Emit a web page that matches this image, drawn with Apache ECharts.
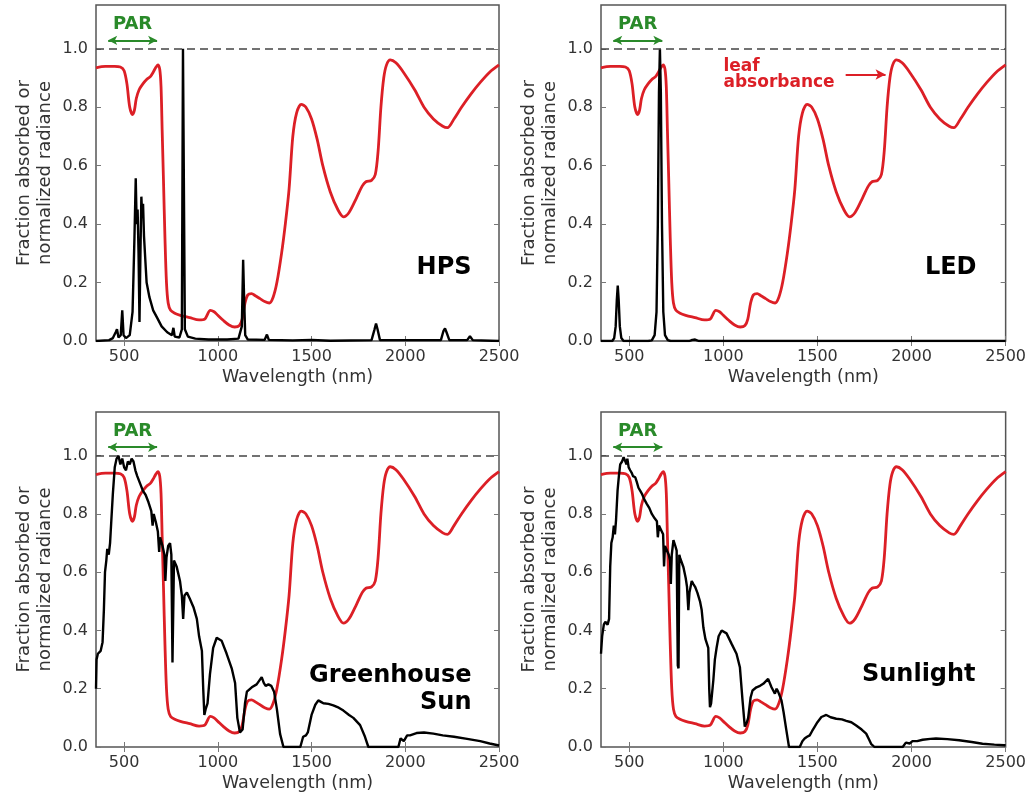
<!DOCTYPE html>
<html><head><meta charset="utf-8">
<script src="https://cdn.jsdelivr.net/npm/echarts@6/dist/echarts.min.js"></script>
<style>html,body{margin:0;padding:0;background:#fff}#c{width:1029px;height:797px}</style>
</head><body><div id="c"></div>
<script>
// ---------- data ----------
const xMin = 350, xMax = 2500;
const yMin = 0, yMax = 1.15;
const xTicks = [500, 1000, 1500, 2000, 2500];
const yTicks = [0, 0.2, 0.4, 0.6, 0.8, 1.0];
const parRange = [415, 676];

const leafAbsorbance = [[350,0.935],[400,0.94],[450,0.94],[480,0.938],[500,0.925],[515,0.88],[530,0.80],[545,0.775],[555,0.79],[565,0.83],[580,0.86],[600,0.88],[620,0.895],[640,0.905],[655,0.92],[668,0.935],[680,0.945],[690,0.93],[697,0.87],[703,0.72],[710,0.55],[718,0.35],[726,0.2],[735,0.13],[748,0.105],[770,0.095],[800,0.088],[850,0.08],[900,0.072],[930,0.075],[960,0.105],[980,0.1],[1000,0.088],[1030,0.07],[1060,0.055],[1090,0.048],[1115,0.053],[1130,0.075],[1145,0.13],[1160,0.158],[1180,0.162],[1200,0.155],[1225,0.145],[1250,0.135],[1275,0.13],[1295,0.15],[1315,0.2],[1340,0.3],[1360,0.4],[1380,0.52],[1400,0.7],[1420,0.78],[1445,0.81],[1470,0.8],[1500,0.76],[1530,0.69],[1560,0.6],[1600,0.51],[1640,0.45],[1670,0.425],[1700,0.44],[1740,0.49],[1770,0.53],[1790,0.545],[1820,0.55],[1840,0.57],[1855,0.65],[1870,0.8],[1885,0.9],[1900,0.945],[1920,0.962],[1950,0.952],[1990,0.92],[2050,0.86],[2100,0.8],[2150,0.76],[2200,0.735],[2225,0.73],[2260,0.76],[2300,0.8],[2350,0.845],[2400,0.885],[2450,0.92],[2500,0.945]];

const hpsSpectrum = [[350,0],[420,0.003],[440,0.01],[455,0.03],[462,0.04],[470,0.012],[482,0.02],[490,0.105],[497,0.02],[510,0.01],[530,0.02],[545,0.1],[555,0.35],[562,0.557],[567,0.4],[572,0.45],[577,0.3],[582,0.065],[587,0.3],[592,0.494],[597,0.42],[601,0.47],[606,0.36],[612,0.29],[620,0.2],[635,0.15],[655,0.105],[680,0.075],[700,0.05],[730,0.03],[755,0.02],[763,0.045],[770,0.015],[795,0.012],[808,0.04],[814,1.0],[818,1.0],[824,0.04],[840,0.015],[880,0.008],[950,0.005],[1050,0.005],[1110,0.008],[1128,0.05],[1135,0.278],[1140,0.15],[1146,0.02],[1160,0.005],[1250,0.004],[1262,0.022],[1272,0.004],[1400,0.002],[1500,0.004],[1600,0.001],[1820,0.003],[1836,0.04],[1844,0.06],[1852,0.04],[1865,0.003],[2190,0.003],[2204,0.035],[2212,0.043],[2220,0.03],[2235,0.003],[2330,0.003],[2345,0.016],[2360,0.003],[2500,0]];

const ledSpectrum = [[350,0],[410,0],[420,0.01],[428,0.05],[434,0.14],[439,0.19],[444,0.14],[450,0.05],[458,0.01],[470,0],[600,0],[620,0.002],[635,0.02],[645,0.1],[652,0.4],[658,0.85],[663,1.0],[668,0.85],[674,0.4],[681,0.1],[690,0.02],[705,0.003],[720,0],[820,0],[835,0.004],[850,0.005],[870,0],[2500,0]];

const greenhouseSpectrum = [[350,0.2],[353,0.3],[360,0.32],[375,0.33],[385,0.36],[392,0.47],[398,0.6],[405,0.64],[410,0.68],[418,0.66],[425,0.7],[432,0.78],[440,0.87],[450,0.96],[460,0.99],[470,1.0],[480,0.97],[490,0.99],[500,0.96],[510,0.95],[520,0.98],[530,0.97],[540,0.99],[550,0.98],[560,0.95],[570,0.93],[585,0.905],[600,0.88],[615,0.865],[630,0.84],[645,0.81],[652,0.76],[658,0.8],[670,0.77],[680,0.74],[687,0.67],[692,0.72],[705,0.69],[715,0.66],[720,0.57],[726,0.65],[735,0.69],[745,0.7],[752,0.66],[758,0.29],[762,0.29],[766,0.64],[780,0.62],[798,0.57],[808,0.52],[815,0.44],[822,0.52],[835,0.53],[850,0.51],[870,0.48],[888,0.44],[900,0.38],[915,0.33],[922,0.2],[928,0.11],[935,0.13],[945,0.15],[958,0.25],[975,0.34],[994,0.375],[1020,0.365],[1047,0.32],[1074,0.27],[1092,0.22],[1104,0.1],[1118,0.05],[1132,0.06],[1145,0.15],[1155,0.19],[1181,0.205],[1207,0.215],[1234,0.24],[1245,0.22],[1255,0.21],[1270,0.215],[1285,0.21],[1300,0.19],[1315,0.13],[1332,0.045],[1350,0],[1440,0],[1455,0.035],[1470,0.04],[1480,0.05],[1500,0.11],[1520,0.145],[1536,0.16],[1550,0.155],[1563,0.15],[1590,0.148],[1616,0.143],[1645,0.135],[1670,0.125],[1700,0.11],[1723,0.1],[1759,0.075],[1785,0.035],[1803,0],[1963,0],[1975,0.03],[1983,0.035],[1992,0.02],[2000,0.025],[2010,0.04],[2025,0.04],[2035,0.045],[2060,0.048],[2100,0.05],[2150,0.046],[2200,0.04],[2260,0.035],[2330,0.028],[2400,0.02],[2450,0.012],[2500,0.005]];

const sunlightSpectrum = [[350,0.32],[356,0.38],[365,0.42],[373,0.43],[385,0.42],[393,0.44],[399,0.62],[405,0.7],[412,0.72],[418,0.76],[424,0.73],[430,0.78],[438,0.88],[445,0.93],[452,0.97],[462,0.98],[470,0.995],[479,1.0],[486,0.97],[490,0.99],[497,0.96],[505,0.95],[514,0.94],[520,0.93],[532,0.926],[540,0.91],[549,0.89],[558,0.88],[567,0.87],[580,0.85],[594,0.834],[607,0.82],[620,0.8],[635,0.785],[647,0.775],[652,0.72],[658,0.76],[673,0.74],[680,0.73],[685,0.62],[690,0.69],[700,0.686],[710,0.66],[717,0.64],[721,0.56],[726,0.66],[735,0.71],[745,0.69],[752,0.674],[758,0.28],[762,0.27],[766,0.66],[770,0.65],[788,0.617],[800,0.58],[807,0.55],[814,0.47],[820,0.53],[832,0.57],[840,0.56],[850,0.55],[862,0.53],[876,0.5],[885,0.47],[894,0.41],[905,0.37],[920,0.34],[925,0.2],[929,0.137],[935,0.15],[947,0.23],[955,0.3],[964,0.34],[975,0.38],[991,0.4],[1017,0.39],[1044,0.354],[1070,0.32],[1088,0.274],[1102,0.16],[1114,0.07],[1125,0.085],[1132,0.1],[1145,0.17],[1155,0.194],[1176,0.205],[1195,0.21],[1212,0.217],[1238,0.234],[1256,0.205],[1265,0.21],[1274,0.183],[1283,0.2],[1291,0.19],[1309,0.16],[1320,0.12],[1335,0.057],[1349,0],[1406,0],[1420,0.02],[1432,0.029],[1445,0.035],[1459,0.04],[1472,0.055],[1485,0.069],[1500,0.085],[1521,0.103],[1547,0.11],[1570,0.102],[1600,0.097],[1630,0.095],[1653,0.09],[1680,0.085],[1706,0.074],[1735,0.06],[1759,0.046],[1775,0.025],[1785,0.011],[1803,0],[1953,0],[1970,0.015],[1980,0.02],[1990,0.012],[1997,0.011],[2005,0.02],[2015,0.023],[2030,0.02],[2059,0.025],[2100,0.028],[2130,0.029],[2190,0.027],[2253,0.023],[2320,0.017],[2377,0.011],[2440,0.008],[2492,0.006],[2500,0.005]];

const panelNames = ['HPS', 'LED', 'Greenhouse\nSun', 'Sunlight'];
const panelNameAnchor = [[2356, 0.249], [2348, 0.249], [2356, 0.199], [2343, 0.249]];
const parLabelAnchor = [545, 1.083];
const parArrowY = 1.029;
const leafLabelAnchor = [998, 0.912];
const leafArrow = [[1650, 0.912], [1862, 0.912]];

// ---------- layout ----------
const rects = [
  {left: 96, top: 5, width: 403, height: 336},
  {left: 601, top: 5, width: 406, height: 336},
  {left: 96, top: 412, width: 403, height: 335},
  {left: 601, top: 412, width: 406, height: 335}
];
const spectra = [hpsSpectrum, ledSpectrum, greenhouseSpectrum, sunlightSpectrum];
const RED = '#dc1f26', GREEN = '#2a8a2a', FRAME = '#555', TXT = '#333';
const FONT = 'DejaVu Sans';

const grid = [], xAxis = [], yAxis = [], series = [];
rects.forEach((r, i) => {
  grid.push(Object.assign({show: true, borderColor: FRAME, borderWidth: 1.5, containLabel: false}, r));
  const tick = {inside: true, length: 5, lineStyle: {color: '#777', width: 1}};
  xAxis.push({type: 'value', gridIndex: i, position: 'bottom', min: xMin, max: xMax,
    axisLine: {show: false}, splitLine: {show: false},
    axisTick: Object.assign({customValues: xTicks}, tick),
    axisLabel: {customValues: xTicks, fontSize: 16, color: TXT, margin: 8, fontFamily: FONT,
      formatter: v => String(v)},
    name: 'Wavelength (nm)', nameLocation: 'middle', nameGap: 27,
    nameTextStyle: {fontSize: 17.5, color: TXT, fontFamily: FONT}});
  xAxis.push({type: 'value', gridIndex: i, position: 'top', min: xMin, max: xMax,
    axisLine: {show: false}, splitLine: {show: false},
    axisTick: Object.assign({customValues: xTicks}, tick), axisLabel: {show: false}});
  yAxis.push({type: 'value', gridIndex: i, position: 'left', min: yMin, max: yMax,
    axisLine: {show: false}, splitLine: {show: false},
    axisTick: Object.assign({customValues: yTicks}, tick),
    axisLabel: {customValues: yTicks, fontSize: 16, color: TXT, margin: 8, fontFamily: FONT,
      formatter: v => v.toFixed(1)},
    name: 'Fraction absorbed or\nnormalized radiance', nameLocation: 'middle', nameRotate: 90, nameGap: 40,
    nameTextStyle: {fontSize: 18, lineHeight: 21, color: TXT, fontFamily: FONT, align: 'center'}});
  yAxis.push({type: 'value', gridIndex: i, position: 'right', min: yMin, max: yMax,
    axisLine: {show: false}, splitLine: {show: false},
    axisTick: Object.assign({customValues: yTicks}, tick), axisLabel: {show: false}});

  const markLineData = [
    {yAxis: 1.0, lineStyle: {color: '#444', width: 1.5, type: [8, 5]}},
    [{coord: [parRange[0], parArrowY], symbol: 'arrow', symbolSize: [7, 9]},
     {coord: [parRange[1], parArrowY], symbol: 'arrow', symbolSize: [7, 9], lineStyle: {color: GREEN, width: 2, type: 'solid'}}]
  ];
  const markPointData = [
    {coord: parLabelAnchor, label: {show: true, position: 'inside', formatter: 'PAR', color: GREEN, fontWeight: 'bold', fontSize: 18, fontFamily: FONT}},
    {coord: panelNameAnchor[i], label: {show: true, position: 'left', distance: 0, formatter: panelNames[i], color: '#000', fontWeight: 'bold', fontSize: 24, lineHeight: 27, align: 'right', fontFamily: FONT}}
  ];
  if (i === 1) {
    markLineData.push([{coord: leafArrow[0], symbol: 'none'},
      {coord: leafArrow[1], symbol: 'arrow', symbolSize: [8, 10], lineStyle: {color: RED, width: 2, type: 'solid'}}]);
    markPointData.push({coord: leafLabelAnchor, label: {show: true, position: 'right', distance: 0, formatter: 'leaf\nabsorbance', color: RED, fontWeight: 'bold', fontSize: 17, lineHeight: 16, align: 'left', fontFamily: FONT}});
  }

  series.push({type: 'line', xAxisIndex: 2 * i, yAxisIndex: 2 * i, data: leafAbsorbance,
    showSymbol: false, smooth: 0.3, lineStyle: {color: RED, width: 2.8}, z: 2, silent: true,
    markLine: {silent: true, symbol: ['none', 'none'], label: {show: false}, data: markLineData, animation: false},
    markPoint: {silent: true, symbol: 'circle', symbolSize: 1, itemStyle: {color: 'rgba(0,0,0,0)'}, data: markPointData, animation: false}
  });
  series.push({type: 'line', xAxisIndex: 2 * i, yAxisIndex: 2 * i, data: spectra[i],
    showSymbol: false, lineStyle: {color: '#000', width: 2.4}, z: 3, silent: true});
});

const chart = echarts.init(document.getElementById('c'));
chart.setOption({animation: false, backgroundColor: '#fff', textStyle: {fontFamily: FONT},
  grid, xAxis, yAxis, series});
</script></body></html>
